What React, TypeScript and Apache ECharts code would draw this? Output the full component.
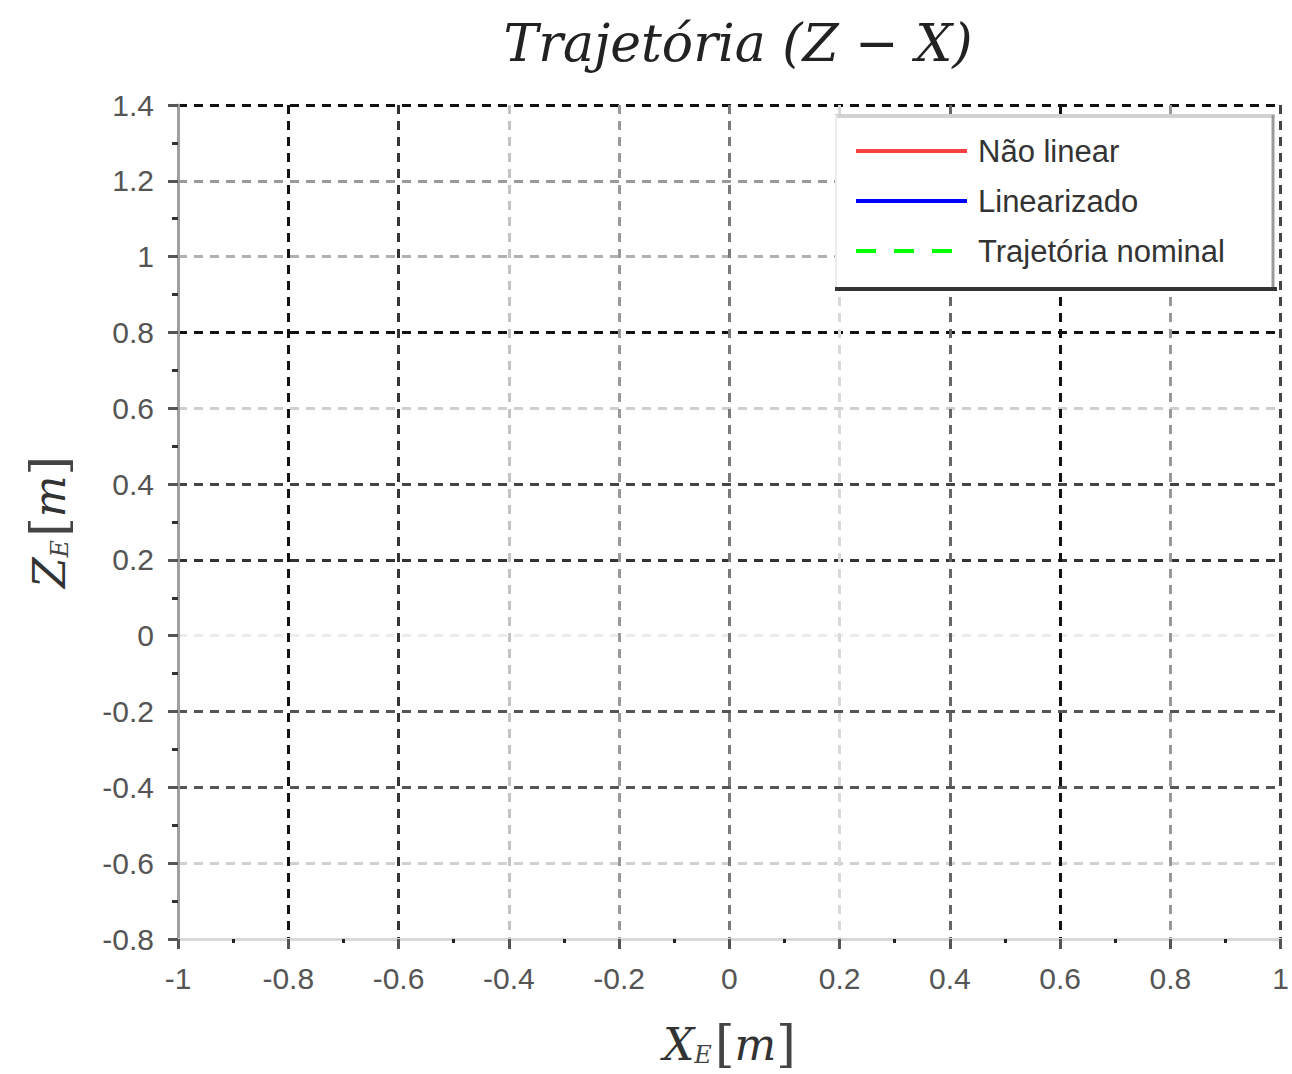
import React, { useEffect, useRef } from "react";
import * as echarts from "echarts";

// ---- data (the reference plot shows no visible curves) ----
const seriesNames = ["Não linear", "Linearizado", "Trajetória nominal"];
const naoLinear: [number, number][] = [];
const linearizado: [number, number][] = [];
const trajetoriaNominal: [number, number][] = [];
const xMin = -1;
const xMax = 1;
const yMin = -0.8;
const yMax = 1.4;
const tickStep = 0.2;
const titleText = "Trajetória (Z − X)";

// grid-line shades (after the min line), as they appear in the reference
const xGridShades = ["#111", "#333", "#c4c4c4", "#9a9a9a", "#7a7a7a", "#dadada", "#666", "#111", "#999", "#444"];
const yGridShades = ["#d0d0d0", "#555", "#555", "#ececec", "#333", "#444", "#cfcfcf", "#111", "#b0b0b0", "#9a9a9a", "#111"];

export default function App() {
  const ref = useRef<HTMLDivElement>(null);
  useEffect(() => {
    document.body.style.margin = "0";
    document.body.style.overflow = "hidden";
    const chart = echarts.init(ref.current!, null, { renderer: "svg" });
    const labelFont = "'Liberation Sans', Arial, sans-serif";
    const serif = "'DejaVu Serif', 'Liberation Serif', serif";
    const dash = [9, 7];
    chart.setOption({
      animation: false,
      backgroundColor: "#fff",
      title: {
        text: titleText,
        left: 733,
        textAlign: "center",
        top: 12,
        textStyle: { fontFamily: serif, fontStyle: "italic", fontWeight: "normal", fontSize: 52, color: "#222" },
      },
      grid: { left: 178, top: 105, width: 1110, height: 835, containLabel: false },
      legend: {
        orient: "vertical",
        left: 849,
        top: 129,
        z: 10,
        itemWidth: 111,
        itemHeight: 14,
        itemGap: 16,
        selectedMode: false,
        data: seriesNames,
        itemStyle: { opacity: 0 },
        lineStyle: { width: 4 },
        textStyle: { fontFamily: labelFont, fontSize: 31, color: "#333", lineHeight: 34, padding: [0, 0, 0, 6] },
      },
      graphic: [
        { type: "rect", z: 3, shape: { x: 835, y: 115, width: 440, height: 175 }, style: { fill: "#fff", stroke: null } },
        { type: "line", z: 4, shape: { x1: 835, y1: 116, x2: 1275, y2: 116 }, style: { stroke: "#d2d2d2", lineWidth: 4 } },
        { type: "line", z: 4, shape: { x1: 836, y1: 115, x2: 836, y2: 290 }, style: { stroke: "#ededed", lineWidth: 2 } },
        { type: "line", z: 4, shape: { x1: 1273, y1: 115, x2: 1273, y2: 290 }, style: { stroke: "#9a9a9a", lineWidth: 3 } },
        { type: "line", z: 4, shape: { x1: 835, y1: 289, x2: 1277, y2: 289 }, style: { stroke: "#333", lineWidth: 4 } },
      ],
      xAxis: {
        type: "value",
        min: xMin,
        max: xMax,
        interval: tickStep,
        name: "{a|X}{b|E} {c|[}{a|m}{c|]}",
        nameLocation: "middle",
        nameGap: 80,
        nameTextStyle: {
          rich: {
            a: { fontFamily: serif, fontStyle: "italic", fontSize: 44, color: "#333" },
            b: { fontFamily: serif, fontStyle: "italic", fontSize: 24, color: "#444", padding: [22, 0, 0, 0] },
            c: { fontFamily: serif, fontSize: 50, color: "#444" },
          },
        },
        axisLine: { show: true, onZero: false, lineStyle: { color: "#d8d8d8", width: 3 } },
        axisTick: { show: true, length: 10, lineStyle: { color: "#555", width: 3 } },
        minorTick: { show: true, splitNumber: 2, length: 4, lineStyle: { color: "#222", width: 3 } },
        axisLabel: { margin: 24, fontFamily: labelFont, fontSize: 30, color: "#555" },
        splitLine: { show: true, showMinLine: false, lineStyle: { color: xGridShades, width: 3, type: dash } },
      },
      yAxis: {
        type: "value",
        min: yMin,
        max: yMax,
        interval: tickStep,
        name: "{a|Z}{b|E} {c|[}{a|m}{c|]}",
        nameLocation: "middle",
        nameGap: 104,
        nameTextStyle: {
          rich: {
            a: { fontFamily: serif, fontStyle: "italic", fontSize: 44, color: "#333" },
            b: { fontFamily: serif, fontStyle: "italic", fontSize: 24, color: "#444", padding: [22, 0, 0, 0] },
            c: { fontFamily: serif, fontSize: 50, color: "#444" },
          },
        },
        axisLine: { show: true, onZero: false, lineStyle: { color: "#a0a0a0", width: 3 } },
        axisTick: { show: true, length: 10, lineStyle: { color: "#555", width: 3 } },
        minorTick: { show: true, splitNumber: 2, length: 6, lineStyle: { color: "#333", width: 3 } },
        axisLabel: { margin: 24, fontFamily: labelFont, fontSize: 30, color: "#555" },
        splitLine: { show: true, showMinLine: false, lineStyle: { color: yGridShades, width: 3, type: dash } },
      },
      series: [
        { name: seriesNames[0], type: "line", data: naoLinear, symbol: "none", lineStyle: { color: "#ff4040", width: 4 }, itemStyle: { color: "#ff4040" } },
        { name: seriesNames[1], type: "line", data: linearizado, symbol: "none", lineStyle: { color: "#0000ff", width: 4 }, itemStyle: { color: "#0000ff" } },
        { name: seriesNames[2], type: "line", data: trajetoriaNominal, symbol: "none", lineStyle: { color: "#00ff00", width: 4, type: [20, 18] }, itemStyle: { color: "#00ff00" } },
      ],
    });
    return () => chart.dispose();
  }, []);
  return <div ref={ref} style={{ width: 1292, height: 1074 }} />;
}
